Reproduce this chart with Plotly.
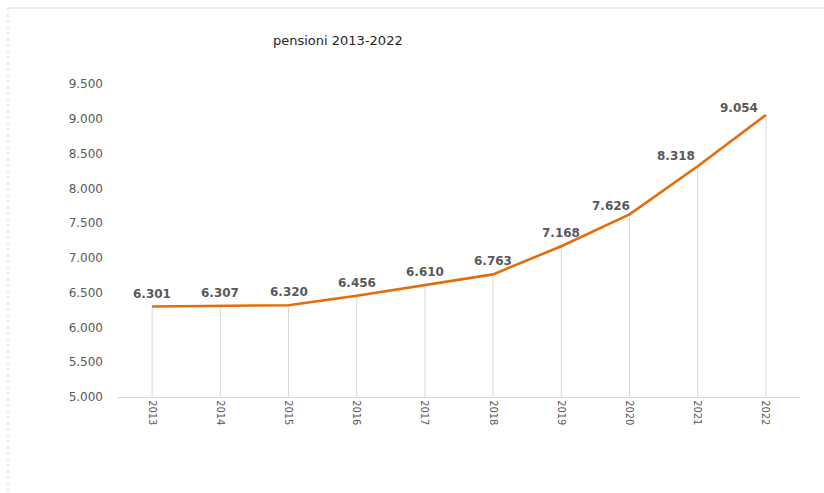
import plotly.graph_objects as go

# Pension totals by year
years = ["2013", "2014", "2015", "2016", "2017", "2018", "2019", "2020", "2021", "2022"]
pensions = [6301, 6307, 6320, 6456, 6610, 6763, 7168, 7626, 8318, 9054]
y_ticks = [5000, 5500, 6000, 6500, 7000, 7500, 8000, 8500, 9000, 9500]
title_text = "pensioni 2013-2022"

# horizontal nudge of each value label (pixels), so the upper labels sit left of the line
label_dx = [0, 0, 0, 0, 0, 0, 0, -19, -22, -27]
label_dy = [13, 13, 13, 13, 13, 13, 13, 8, 10, 7]


def it_fmt(v):
    return f"{v:,}".replace(",", ".")


W, H = 824, 493
L, R, T, B = 118, 24, 84, 96
pw, ph = W - L - R, H - T - B

fig = go.Figure()

# drop lines from the baseline up to each point
for i, v in enumerate(pensions):
    fig.add_trace(go.Scatter(
        x=[i, i], y=[y_ticks[0], v], mode="lines",
        line=dict(color="#d9d9d9", width=1), hoverinfo="skip", showlegend=False,
    ))

fig.add_trace(go.Scatter(
    x=list(range(len(years))), y=pensions, mode="lines",
    line=dict(color="#E46C0A", width=2.6), showlegend=False,
))

for i, v in enumerate(pensions):
    fig.add_annotation(
        x=i, y=v, text=f"<b>{it_fmt(v)}</b>", showarrow=False,
        xshift=label_dx[i], yshift=label_dy[i],
        font=dict(family="DejaVu Sans", size=12, color="#595959"),
    )

fig.update_xaxes(
    range=[-0.5, len(years) - 0.5],
    tickmode="array", tickvals=list(range(len(years))), ticktext=years,
    tickangle=90, showgrid=False, zeroline=False,
    showline=True, linecolor="#d9d9d9", linewidth=1, ticks="",
    tickfont=dict(family="DejaVu Sans Condensed, Liberation Sans Narrow, Liberation Sans", size=11, color="#595959"),
)
fig.update_yaxes(
    range=[y_ticks[0], y_ticks[-1]],
    tickmode="array", tickvals=y_ticks, ticktext=[it_fmt(t) for t in y_ticks],
    showgrid=False, zeroline=False, showline=False, ticks="",
    ticklabelstandoff=14,
    tickfont=dict(family="DejaVu Sans", size=12, color="#595959"),
)

# chart frame (top and left edges)
x_left = (8 - L) / pw
y_top = 1 + (T - 8) / ph
fig.add_shape(type="line", xref="paper", yref="paper", x0=x_left, x1=(W - L) / pw,
              y0=y_top, y1=y_top, line=dict(color="#d9d9d9", width=1))
fig.add_shape(type="line", xref="paper", yref="paper", x0=x_left, x1=x_left,
              y0=y_top, y1=-B / ph, line=dict(color="#d9d9d9", width=1, dash="dot"))

fig.add_annotation(
    x=(338 - L) / pw, y=1 + (T - 41) / ph, xref="paper", yref="paper",
    text=title_text, showarrow=False, xanchor="center", yanchor="middle",
    font=dict(family="DejaVu Sans", size=13, color="#262626"),
)

fig.update_layout(
    width=W, height=H,
    margin=dict(l=L, r=R, t=T, b=B),
    paper_bgcolor="white", plot_bgcolor="white",
)

fig.write_html("out.html")
